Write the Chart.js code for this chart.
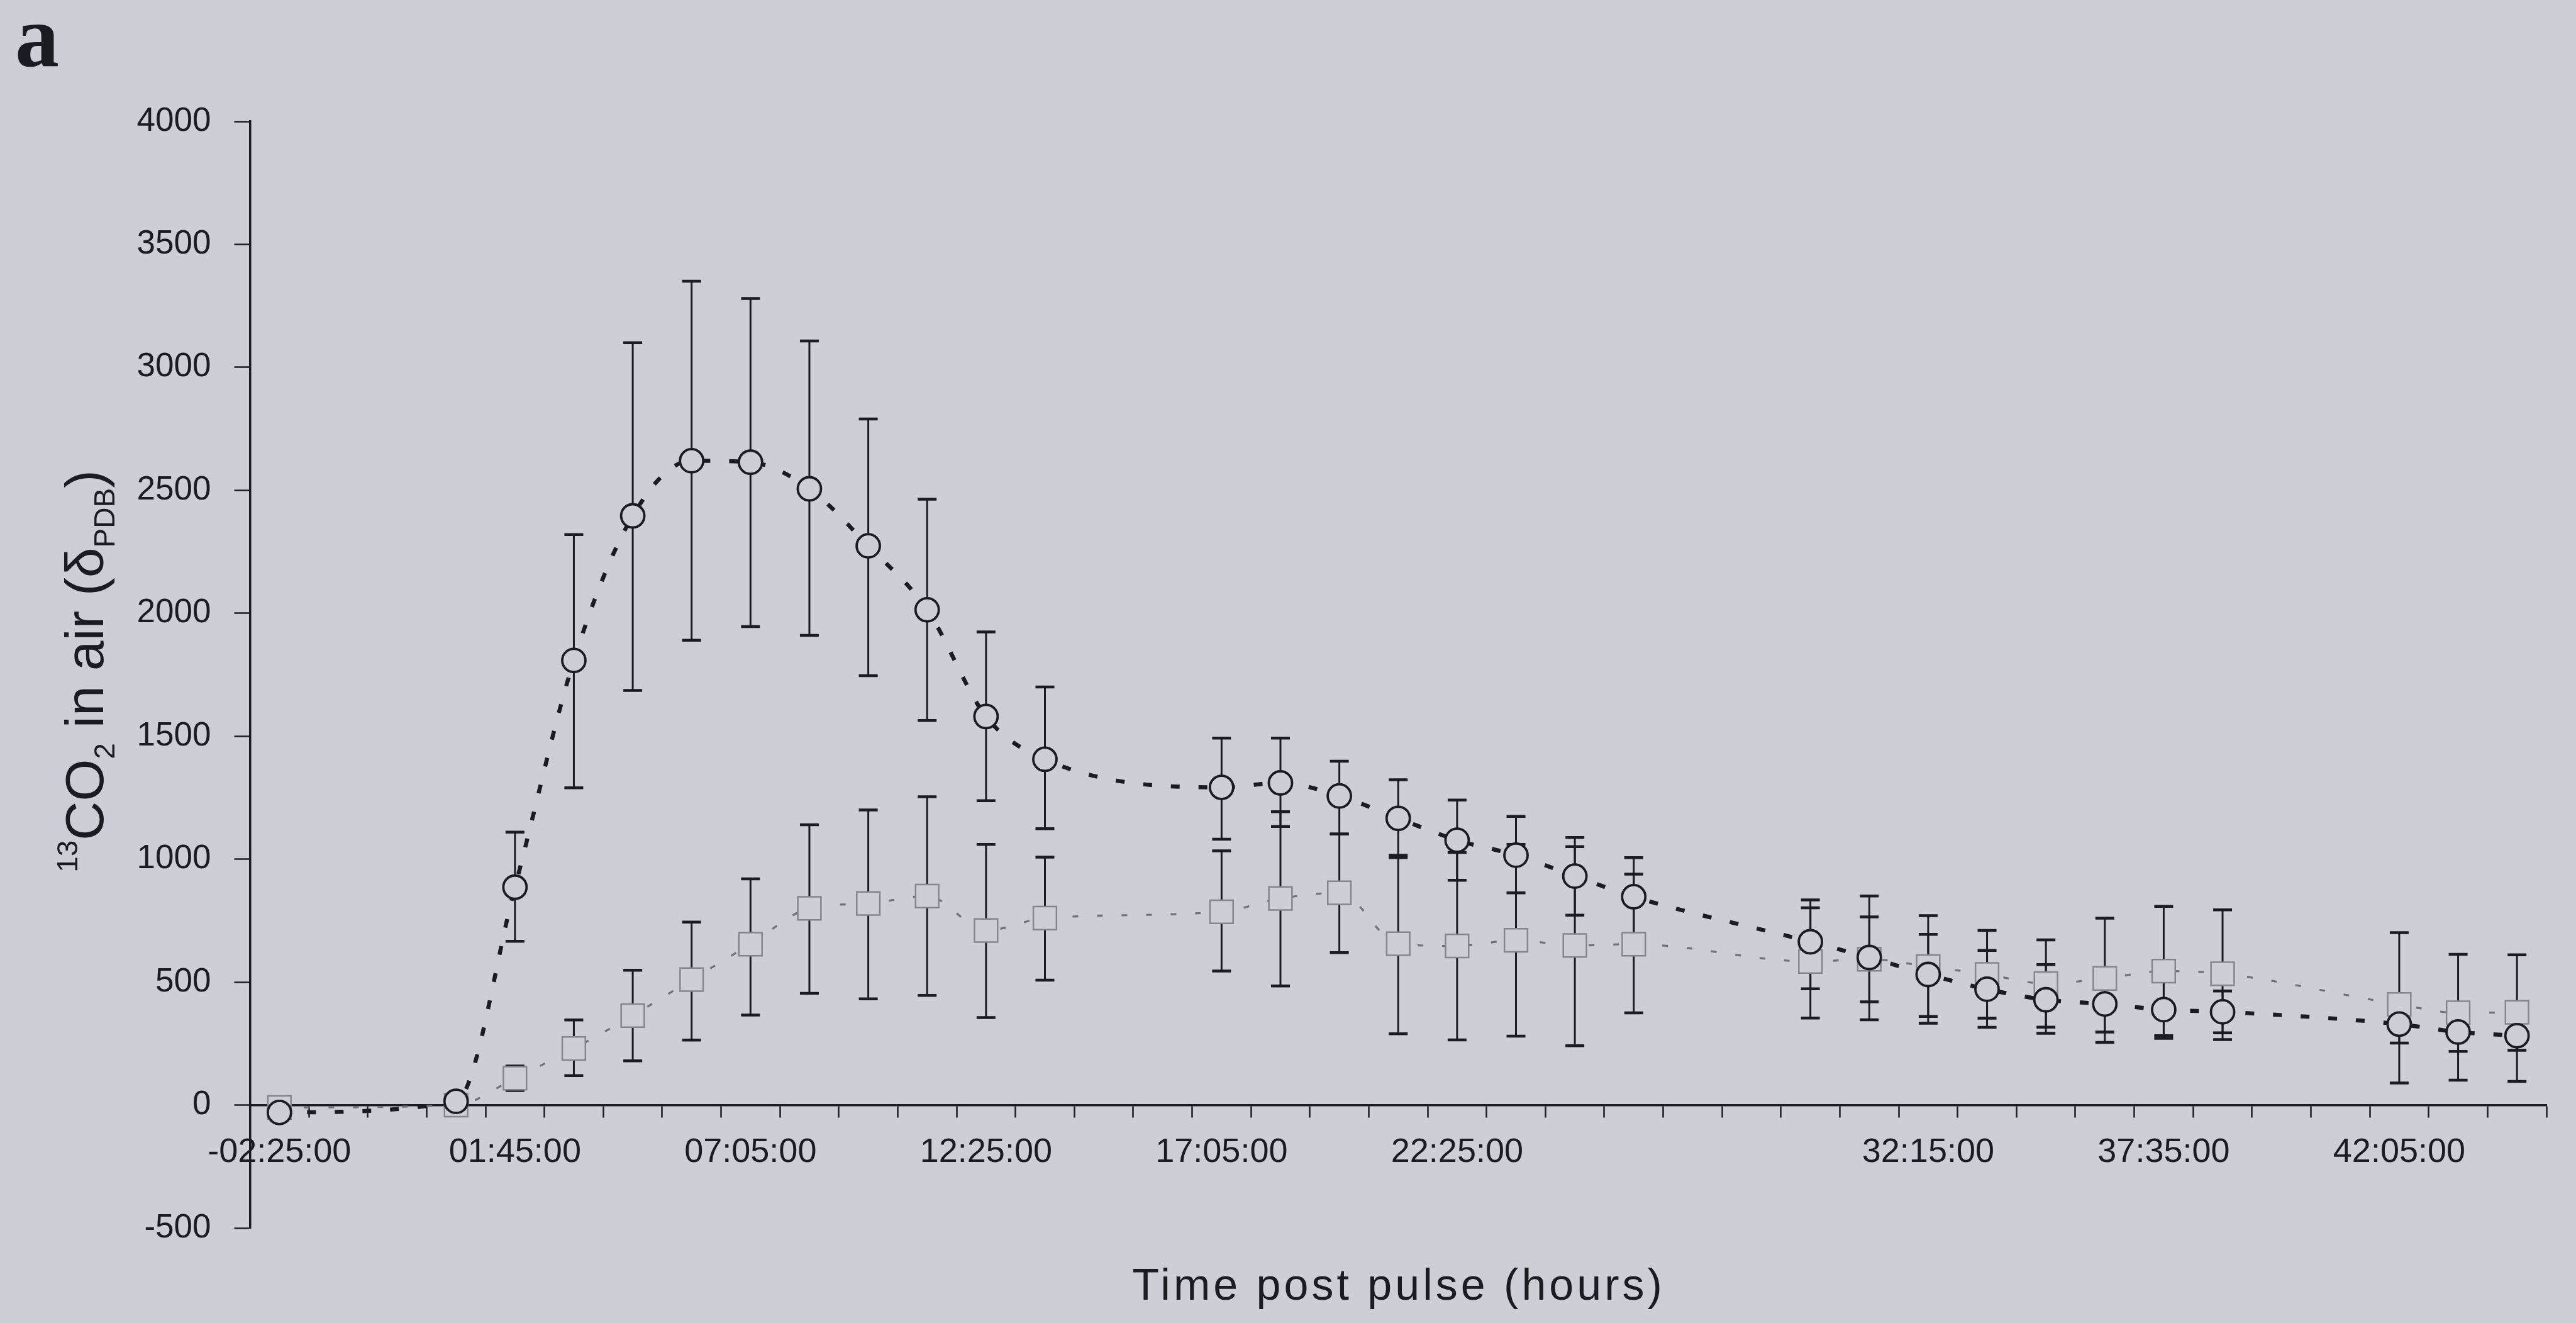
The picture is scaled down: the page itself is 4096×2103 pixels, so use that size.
<!DOCTYPE html>
<html>
<head>
<meta charset="utf-8">
<title>13CO2 in air</title>
<script src="https://cdn.jsdelivr.net/npm/chart.js@4.4.1/dist/chart.umd.min.js"></script>
<style>
  html, body { margin: 0; padding: 0; background: rgb(206, 207, 214); }
  canvas { display: block; }
</style>
</head>
<body>
<canvas id="co2Chart" width="4096" height="2103"></canvas>
<script>
// categorias del eje x (solo algunas llevan etiqueta)
const timeLabels = [
  '-02:25:00', '', '', '', '01:45:00', '', '', '', '07:05:00', '', '', '',
  '12:25:00', '', '', '', '17:05:00', '', '', '', '22:25:00', '', '', '',
  '', '', '', '', '32:15:00', '', '', '', '37:35:00', '', '', '',
  '42:05:00', '', ''
];

// serie circulos
const circleValues = [
  -30, null, null, 15, 886, 1808, 2396, 2620, 2614, 2506, 2274, 2014,
  1580, 1406, null, null, 1292, 1310, 1257, 1166, 1077, 1016, 931, 847,
  null, null, 664, 600, 531, 471, 428, 411, 388, 379, null, null,
  329, 297, 282
];
const circleLow = [
  null, null, null, null, 666, 1290, 1686, 1890, 1946, 1910, 1746, 1564,
  1238, 1124, null, null, 1081, 1133, 1102, 1006, 914, 863, 772, 689,
  null, null, 473, 347, 360, 316, 292, 297, 271, 294, null, null,
  252, 218, 223
];
const circleHigh = [
  null, null, null, null, 1110, 2320, 3100, 3350, 3280, 3107, 2790, 2464,
  1924, 1700, null, null, 1492, 1492, 1398, 1323, 1240, 1174, 1088, 1006,
  null, null, 834, 850, 694, 629, 571, 525, 505, 464, null, null,
  407, 377, 340
];

// serie cuadrados
const squareValues = [
  -10, null, null, 0, 109, 230, 364, 510, 654, 800, 820, 850,
  710, 760, null, null, 786, 840, 863, 656, 647, 670, 649, 654,
  null, null, 584, 593, 563, 531, 494, 515, 545, 534, null, null,
  409, 375, 377
];
const squareLow = [
  null, null, null, null, 59, 120, 180, 264, 366, 454, 432, 446,
  356, 508, null, null, 545, 484, 620, 290, 265, 280, 241, 375,
  null, null, 354, 420, 333, 353, 317, 255, 282, 266, null, null,
  90, 101, 96
];
const squareHigh = [
  null, null, null, null, 159, 346, 548, 744, 920, 1140, 1200, 1254,
  1060, 1008, null, null, 1034, 1193, 1102, 1016, 1027, 1060, 1051, 939,
  null, null, 802, 765, 770, 710, 672, 760, 808, 794, null, null,
  701, 613, 611
];

const yTicks = { min: -500, max: 4000, step: 500 };

const paper = 'rgb(206, 207, 214)';
const ink = '#1b1b22';
const sans = '"Liberation Sans", Arial, sans-serif';

// fondo del papel
const paperBackground = {
  id: 'paperBackground',
  beforeDraw(chart) {
    const ctx = chart.ctx;
    ctx.save();
    ctx.fillStyle = paper;
    ctx.fillRect(0, 0, chart.width, chart.height);
    ctx.restore();
  }
};

// barras de error (debajo de los marcadores)
const errorBars = {
  id: 'errorBars',
  beforeDatasetsDraw(chart) {
    const ctx = chart.ctx;
    const x = chart.scales.x;
    const y = chart.scales.y;
    const sets = [[squareLow, squareHigh], [circleLow, circleHigh]];
    ctx.save();
    ctx.strokeStyle = ink;
    sets.forEach(([low, high]) => {
      low.forEach((lo, i) => {
        const hi = high[i];
        if (lo === null || hi === null) return;
        const px = x.getPixelForValue(i);
        const yLo = y.getPixelForValue(lo);
        const yHi = y.getPixelForValue(hi);
        ctx.lineWidth = 3;
        ctx.beginPath();
        ctx.moveTo(px, yLo);
        ctx.lineTo(px, yHi);
        ctx.stroke();
        ctx.lineWidth = 4.5;
        ctx.beginPath();
        ctx.moveTo(px - 15, yLo);
        ctx.lineTo(px + 15, yLo);
        ctx.moveTo(px - 15, yHi);
        ctx.lineTo(px + 15, yHi);
        ctx.stroke();
      });
    });
    ctx.restore();
  }
};

// titulos de ejes y letra del panel
const axisTitles = {
  id: 'axisTitles',
  afterDraw(chart) {
    const ctx = chart.ctx;
    ctx.save();
    ctx.fillStyle = ink;

    // letra "a"
    ctx.font = 'bold 140px "Liberation Serif", "Times New Roman", serif';
    ctx.textAlign = 'left';
    ctx.textBaseline = 'alphabetic';
    ctx.fillText('a', 24, 105);

    // titulo eje x
    ctx.font = '70px ' + sans;
    ctx.letterSpacing = '5px';
    ctx.textAlign = 'center';
    ctx.fillText('Time post pulse (hours)', 2224, 2066);
    ctx.letterSpacing = '0px';

    // titulo eje y con super/subindices
    const big = '86px ' + sans;
    const small = '46px ' + sans;
    const parts = [
      { t: '13', f: small, dy: -41 },
      { t: 'CO', f: big, dy: 0 },
      { t: '2', f: small, dy: 18 },
      { t: ' in air (\u03B4', f: big, dy: 0 },
      { t: 'PDB', f: small, dy: 18 },
      { t: ')', f: big, dy: 0 }
    ];
    let total = 0;
    parts.forEach(p => { ctx.font = p.f; p.w = ctx.measureText(p.t).width; total += p.w; });
    ctx.translate(164, 1067);
    ctx.rotate(-Math.PI / 2);
    ctx.textAlign = 'left';
    let cx = -total / 2;
    parts.forEach(p => {
      ctx.font = p.f;
      ctx.fillText(p.t, cx, p.dy);
      cx += p.w;
    });
    ctx.restore();
  }
};

const ctxCo2 = document.getElementById('co2Chart').getContext('2d');

new Chart(ctxCo2, {
  type: 'line',
  data: {
    labels: timeLabels,
    datasets: [
      {
        label: 'circles',
        data: circleValues,
        borderColor: ink,
        borderWidth: 6.5,
        borderDash: [14, 30],
        cubicInterpolationMode: 'monotone',
        spanGaps: true,
        fill: false,
        pointStyle: 'circle',
        pointRadius: 18.5,
        pointBorderWidth: 3.8,
        pointBorderColor: ink,
        pointBackgroundColor: paper
      },
      {
        label: 'squares',
        data: squareValues,
        borderColor: '#707078',
        borderWidth: 3.2,
        borderDash: [9, 30],
        cubicInterpolationMode: 'monotone',
        spanGaps: true,
        fill: false,
        pointStyle: 'rect',
        pointRadius: 26,
        pointBorderWidth: 2.5,
        pointBorderColor: '#85858d',
        pointBackgroundColor: paper
      }
    ]
  },
  options: {
    responsive: false,
    animation: false,
    devicePixelRatio: 1,
    events: [],
    layout: { padding: { left: 0, right: 47, top: 193, bottom: 151 } },
    plugins: {
      legend: { display: false },
      tooltip: { enabled: false }
    },
    scales: {
      x: {
        type: 'category',
        offset: true,
        position: { y: 0 },
        grid: {
          offset: true,
          drawOnChartArea: false,
          drawTicks: true,
          tickLength: 18,
          tickWidth: 2.5,
          tickColor: ink
        },
        border: { display: true, color: ink, width: 3.5 },
        ticks: {
          autoSkip: false,
          maxRotation: 0,
          minRotation: 0,
          padding: 25,
          color: ink,
          font: { family: sans, size: 54 }
        },
        afterFit(scale) { scale.height = 0; }
      },
      y: {
        min: yTicks.min,
        max: yTicks.max,
        grid: {
          drawOnChartArea: false,
          drawTicks: true,
          tickLength: 25,
          tickWidth: 2.5,
          tickColor: ink
        },
        border: { display: true, color: ink, width: 3.5 },
        ticks: {
          stepSize: yTicks.step,
          padding: 37,
          color: ink,
          font: { family: sans, size: 53 },
          callback: value => String(value)
        },
        afterFit(scale) { scale.width = 397.5; }
      }
    }
  },
  plugins: [paperBackground, errorBars, axisTitles]
});
</script>
</body>
</html>
